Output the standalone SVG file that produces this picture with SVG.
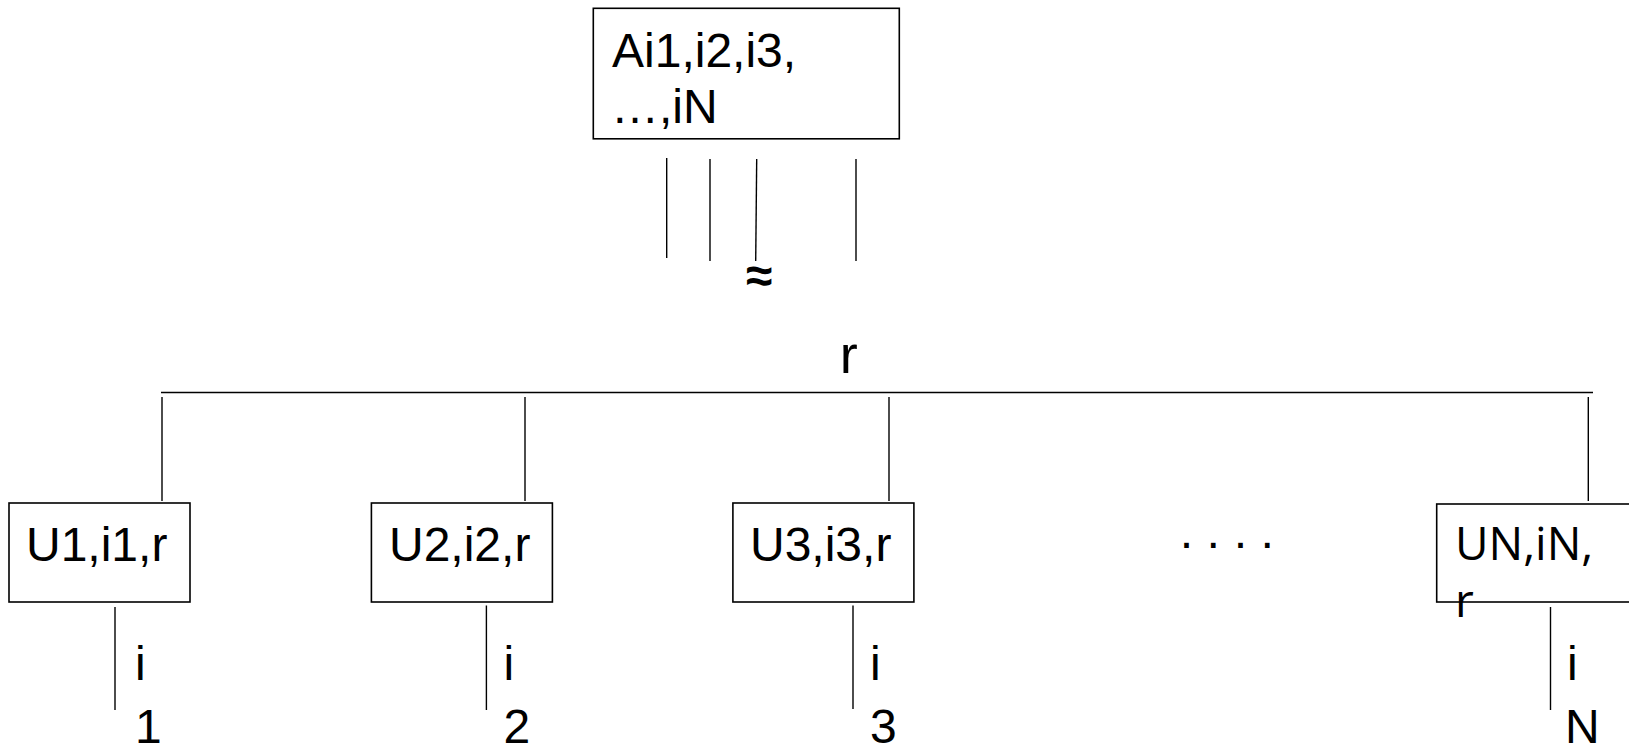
<svg xmlns="http://www.w3.org/2000/svg" width="1629" height="745" viewBox="0 0 1629 745">
<style>
.box{fill:#fff;stroke:#000;stroke-width:1.6}
.ln{stroke:#000;stroke-width:1.4;fill:none}
.t{font-family:"Liberation Sans",Arial,sans-serif;font-size:48px;fill:#000}
.o{font-family:"Open Sans","Liberation Sans",sans-serif;font-size:46px;fill:#000}
</style>
<rect width="1629" height="745" fill="#fff"/>
<g id="connectors">
<line class="ln" x1="666.7" y1="158" x2="666.7" y2="258"/>
<line class="ln" x1="710" y1="159" x2="710" y2="261"/>
<line class="ln" x1="756.7" y1="159" x2="755.7" y2="261"/>
<line class="ln" x1="856" y1="159" x2="856" y2="261"/>
<line class="ln" x1="161" y1="392.5" x2="1593" y2="392.5"/>
<line class="ln" x1="162" y1="397" x2="162" y2="501"/>
<line class="ln" x1="525" y1="397" x2="525" y2="501"/>
<line class="ln" x1="889" y1="397" x2="889" y2="501"/>
<line class="ln" x1="1588.3" y1="397" x2="1588.3" y2="501"/>
<line class="ln" x1="115" y1="607" x2="115" y2="710"/>
<line class="ln" x1="486.4" y1="605.5" x2="486.4" y2="710"/>
<line class="ln" x1="853" y1="605.5" x2="853" y2="709"/>
<line class="ln" x1="1550.5" y1="607" x2="1550.5" y2="710"/>
</g>
<g id="nodeA">
<rect class="box" x="593.3" y="8.3" width="306" height="130.5"/>
<text class="t" x="612" y="66.5">Ai1,i2,i3,</text>
<text class="t" x="611" y="123">…,iN</text>
</g>
<g id="approx"><text class="t" x="746" y="292" style="font-weight:bold">≈</text></g>
<g id="rlabel"><text class="t" x="839.7" y="373.3" style="font-size:54px">r</text></g>
<g id="nodeU1">
<rect class="box" x="9" y="503" width="181" height="99"/>
<text class="t" x="26" y="561">U1,i1,r</text>
</g>
<g id="nodeU2">
<rect class="box" x="371.4" y="503" width="181" height="99"/>
<text class="t" x="389" y="561">U2,i2,r</text>
</g>
<g id="nodeU3">
<rect class="box" x="732.9" y="503" width="181" height="99"/>
<text class="t" x="750" y="561">U3,i3,r</text>
</g>
<g id="dots"><text class="t" x="1178.6 1205.3 1232.6 1259.3" y="559">····</text></g>
<g id="nodeUN">
<rect class="box" x="1436.7" y="504" width="210" height="98"/>
<text class="o" x="1455" y="560">UN,iN,</text>
<text class="o" x="1455" y="617">r</text>
</g>
<g id="labels">
<text class="t" x="135" y="680">i</text>
<text class="t" x="135" y="743">1</text>
<text class="t" x="503.5" y="680">i</text>
<text class="t" x="503.5" y="743">2</text>
<text class="t" x="870" y="680">i</text>
<text class="t" x="870" y="743">3</text>
<text class="t" x="1567" y="680">i</text>
<text class="t" x="1565" y="743">N</text>
</g>
</svg>
